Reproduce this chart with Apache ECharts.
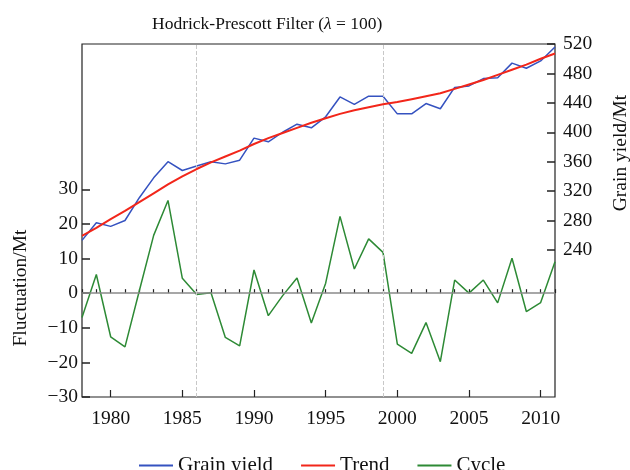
<!DOCTYPE html>
<html>
<head>
<meta charset="utf-8">
<script src="https://cdn.jsdelivr.net/npm/echarts@6/dist/echarts.min.js"></script>
<style>html,body{margin:0;padding:0;background:#fff}#c{width:630px;height:470px}</style>
</head>
<body>
<div id="c"></div>
<script>
const years = [1978,1979,1980,1981,1982,1983,1984,1985,1986,1987,1988,1989,1990,1991,1992,1993,1994,1995,1996,1997,1998,1999,2000,2001,2002,2003,2004,2005,2006,2007,2008,2009,2010,2011];
const grainYield = [253,277,272,280,311,338,360,348,354,360,357,362,392,387,400,411,406,421,448,438,449,449,425,425,439,432,461,463,473,474,494,487,497,516];
const trend = [259,270,282,293,305,317,329,340,350,359,367,375,384,392,399,406,413,419,425,430,434,438,441,445,449,453,459,465,471,478,485,492,500,507];
const cycle = [-7.0,5.4,-12.6,-15.5,0.7,16.7,26.8,4.3,-0.4,0.1,-12.8,-15.2,6.7,-6.5,-0.7,4.4,-8.6,2.9,22.2,7.0,15.7,11.8,-14.7,-17.4,-8.5,-19.8,3.8,0.0,3.8,-2.8,10.1,-5.3,-2.7,9.1];
const xLabelYears = [1980,1985,1990,1995,2000,2005,2010];
const leftTicks = [-30,-20,-10,0,10,20,30];
const rightTicks = [240,280,320,360,400,440,480,520];
const markYears = [1986,1999];

const FONT = 'Liberation Serif';
const chart = echarts.init(document.getElementById('c'));
const pairs = arr => years.map((y,i)=>[y, arr[i]]);
chart.setOption({
  animation: false,
  title: {
    text: '{n|Hodrick-Prescott Filter (}{i|λ}{n| = 100)}',
    left: 147, top: 10,
    textStyle: {
      fontWeight: 'normal',
      rich: {
        n: {fontFamily: FONT, fontSize: 17.5, fontWeight: 'normal', color: '#111'},
        i: {fontFamily: FONT, fontSize: 17.5, fontWeight: 'normal', fontStyle: 'italic', color: '#111'}
      }
    }
  },
  legend: {
    left: 134, top: 450,
    itemWidth: 34, itemHeight: 2, itemGap: 28, icon: 'rect',
    textStyle: {fontFamily: FONT, fontSize: 21, color: '#111'},
    data: ['Grain yield','Trend','Cycle']
  },
  grid: {left: 82, right: 75, top: 44, bottom: 73, show: true, borderColor: '#222', borderWidth: 1.2, backgroundColor: 'transparent'},
  xAxis: [
    {
      type: 'value', min: 1978, max: 2011, interval: 1,
      axisLine: {show: false},
      splitLine: {show: false},
      axisTick: {show: true, inside: true, length: 4, lineStyle: {color: '#222', width: 1.2}},
      axisLabel: {
        margin: 12, fontFamily: FONT, fontSize: 19.5, color: '#111',
        formatter: v => (xLabelYears.indexOf(v) >= 0 ? String(v) : '')
      }
    },
    {
      type: 'value', min: 1978, max: 2011, position: 'bottom',
      axisLine: {show: false}, splitLine: {show: false},
      axisLabel: {show: false},
      axisTick: {show: true, inside: true, length: 7, customValues: xLabelYears, lineStyle: {color: '#222', width: 1.2}}
    }
  ],
  yAxis: [
    {
      type: 'value', min: -30, max: 72, position: 'left',
      axisLine: {show: false}, splitLine: {show: false},
      axisTick: {show: true, inside: true, length: 8, customValues: leftTicks, lineStyle: {color: '#222', width: 1.5}},
      axisLabel: {
        customValues: leftTicks, margin: 4,
        fontFamily: FONT, fontSize: 19.5, color: '#111',
        formatter: v => String(v).replace('-', '\u2212')
      }
    },
    {
      type: 'value', min: 40, max: 520, interval: 40, position: 'right',
      axisLine: {show: false}, splitLine: {show: false},
      axisTick: {show: true, inside: true, length: 8, customValues: rightTicks, lineStyle: {color: '#222', width: 1.5}},
      axisLabel: {customValues: rightTicks, margin: 8, fontFamily: FONT, fontSize: 19.5, color: '#111'}
    }
  ],
  graphic: [
    {type: 'text', x: 21, y: 288, rotation: Math.PI/2,
     style: {text: 'Fluctuation/Mt', font: '19.5px "Liberation Serif"', fill: '#111', align: 'center', verticalAlign: 'middle'}},
    {type: 'text', x: 621, y: 153, rotation: Math.PI/2,
     style: {text: 'Grain yield/Mt', font: '19.5px "Liberation Serif"', fill: '#111', align: 'center', verticalAlign: 'middle'}}
  ],
  series: [
    {
      name: 'Cycle', type: 'line', xAxisIndex: 0, yAxisIndex: 0,
      data: pairs(cycle), showSymbol: false, color: '#2d8a35',
      lineStyle: {width: 1.5, color: '#2d8a35'}, z: 3,
      markLine: {
        silent: true, symbol: 'none', label: {show: false},
        data: [
          {yAxis: 0, lineStyle: {color: '#8a8a8a', width: 1.5, type: 'solid'}},
          ...markYears.map(y => ({xAxis: y, lineStyle: {color: '#c8c8c8', width: 1, type: 'dashed'}}))
        ]
      }
    },
    {
      name: 'Grain yield', type: 'line', xAxisIndex: 0, yAxisIndex: 1,
      data: pairs(grainYield), showSymbol: false, color: '#3552c0',
      lineStyle: {width: 1.5, color: '#3552c0'}, z: 4
    },
    {
      name: 'Trend', type: 'line', xAxisIndex: 0, yAxisIndex: 1,
      data: pairs(trend), showSymbol: false, color: '#f2261a',
      lineStyle: {width: 2, color: '#f2261a'}, z: 5
    }
  ]
});
</script>
</body>
</html>
